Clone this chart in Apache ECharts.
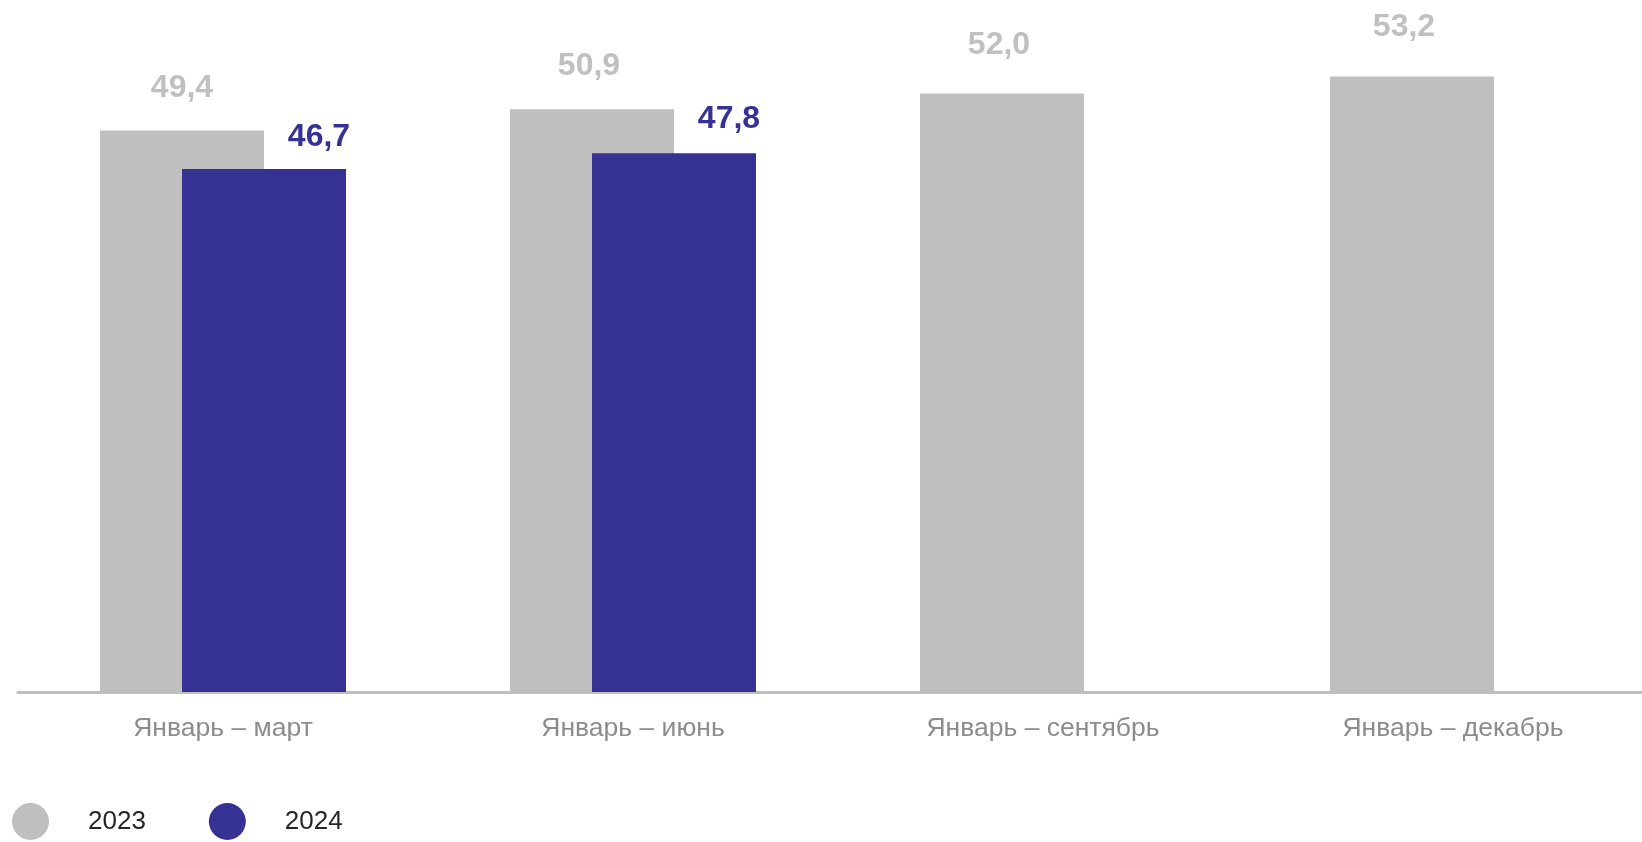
<!DOCTYPE html>
<html>
<head>
<meta charset="utf-8">
<script src="https://cdn.jsdelivr.net/npm/echarts@6/dist/echarts.min.js"></script>
<style>
html,body{margin:0;padding:0;background:#fff;}
#c{width:1642px;height:842px;}
</style>
</head>
<body>
<div id="c"></div>
<script>
const categories = ['Январь – март', 'Январь – июнь', 'Январь – сентябрь', 'Январь – декабрь'];
const seriesNames = ['2023', '2024'];
const values2023 = [49.4, 50.9, 52.0, 53.2];
const values2024 = [46.7, 47.8, null, null];

// label placement tweaks (style only, not data)
const labelDist2023 = [26, 27, 32, 33];
const labelShift2023 = [0, -3, -3, -8];
const labelDist2024 = [16, 18, 16, 16];

const FONT = '"Liberation Sans", Arial, sans-serif';
const fmt = p => (p.value == null ? '' : p.value.toFixed(1).replace('.', ','));

const data2023 = values2023.map((v, i) => ({
  value: v,
  label: {distance: labelDist2023[i], offset: [labelShift2023[i], 0]}
}));
const data2024 = values2024.map((v, i) => ({
  value: v,
  label: {distance: labelDist2024[i]}
}));

const chart = echarts.init(document.getElementById('c'), null, {renderer: 'canvas'});
chart.setOption({
  animation: false,
  backgroundColor: '#ffffff',
  textStyle: {fontFamily: FONT},
  grid: {left: 18, right: -16, top: 8, bottom: 150, containLabel: false, outerBoundsMode: 'none'},
  legend: {
    left: 7, top: 798,
    itemWidth: 37, itemHeight: 37, itemGap: 63,
    icon: 'circle',
    textStyle: {fontFamily: FONT, fontSize: 26, color: '#262626', padding: [0, 0, 0, 34]},
    data: seriesNames
  },
  xAxis: {
    type: 'category',
    data: categories,
    axisLine: {lineStyle: {color: '#bfbfbf', width: 3}},
    axisTick: {show: false},
    axisLabel: {fontFamily: FONT, fontSize: 26.5, color: '#8c8c8c', margin: 23}
  },
  yAxis: {
    type: 'value', min: 10, max: 58, show: false,
    splitLine: {show: false}
  },
  series: [
    {
      name: seriesNames[0], type: 'bar', data: data2023,
      barWidth: '40%', barGap: '-50%',
      itemStyle: {color: '#bfbfbf'},
      label: {show: true, position: 'top', distance: 26, formatter: fmt,
        fontFamily: FONT, fontSize: 32, fontWeight: 'bold', color: '#c0c0c0'}
    },
    {
      name: seriesNames[1], type: 'bar', data: data2024,
      barWidth: '40%',
      itemStyle: {color: '#363294'},
      label: {show: true, position: 'top', distance: 16, offset: [55, 0], formatter: fmt,
        fontFamily: FONT, fontSize: 32, fontWeight: 'bold', color: '#363294'}
    }
  ]
});
</script>
</body>
</html>
